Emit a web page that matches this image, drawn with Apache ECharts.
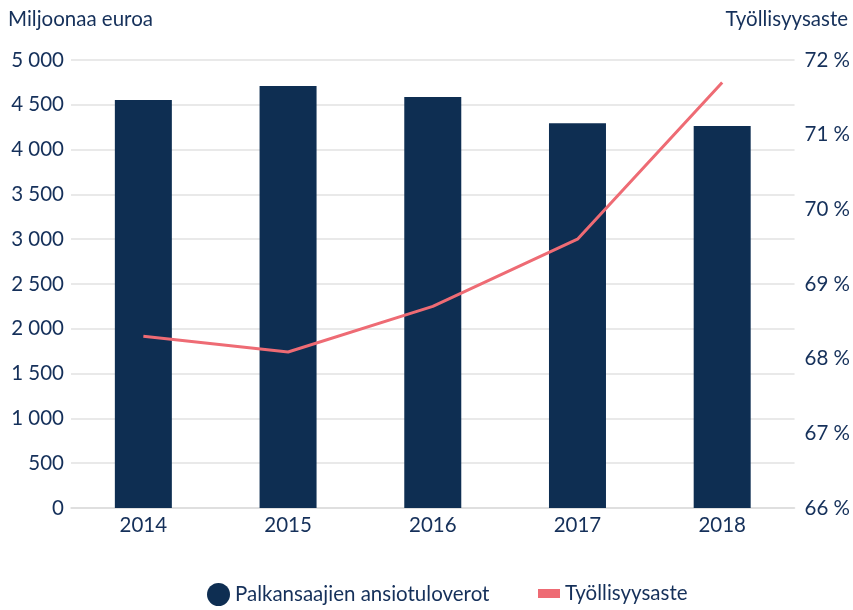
<!DOCTYPE html>
<html>
<head>
<meta charset="utf-8">
<script src="https://cdn.jsdelivr.net/npm/echarts@6/dist/echarts.min.js"></script>
<style>
  html, body { margin: 0; padding: 0; background: #fff; }
  #main { width: 853px; height: 610px; }
</style>
</head>
<body>
<div id="main"></div>
<script>
// vuodet
var years = ["2014", "2015", "2016", "2017", "2018"];
// palkansaajien ansiotuloverot, milj. euroa
var taxValues = [4554, 4710, 4587, 4293, 4263];
// työllisyysaste, %
var employmentRate = [68.3, 68.09, 68.7, 69.6, 71.7];

var textColor = "#15305a";
var font = "Lato";
var fs = 20.5;

function spaced(v) {
  return String(v).replace(/\B(?=(\d{3})+(?!\d))/g, " ");
}

var chart = echarts.init(document.getElementById("main"));
var option = {
  animation: false,
  textStyle: { fontFamily: font, color: textColor },
  title: [
    {
      text: "Miljoonaa euroa",
      left: 3,
      top: 4,
      textStyle: { fontFamily: font, fontSize: fs, fontWeight: "normal", color: textColor },
    },
    {
      text: "Työllisyysaste",
      right: 0,
      top: 4,
      textStyle: { fontFamily: font, fontSize: fs, fontWeight: "normal", color: textColor },
    },
  ],
  grid: { left: 71, right: 57, top: 60, bottom: 102 },
  legend: [
    {
      left: 207,
      top: 583,
      padding: 0,
      icon: "circle",
      itemWidth: 23,
      itemHeight: 23,
      textStyle: { fontFamily: font, fontSize: fs, color: textColor },
      data: ["Palkansaajien ansiotuloverot"],
    },
    {
      left: 538,
      top: 583,
      padding: 0,
      icon: "rect",
      itemWidth: 22,
      itemHeight: 9,
      textStyle: { fontFamily: font, fontSize: fs, color: textColor },
      data: ["Työllisyysaste"],
    },
  ],
  xAxis: {
    type: "category",
    data: years,
    axisLine: { lineStyle: { color: "#dcdcdc", width: 1.5 } },
    axisTick: { show: false },
    axisLabel: { fontFamily: font, fontSize: fs, color: textColor, margin: 7 },
  },
  yAxis: [
    {
      type: "value",
      min: 0,
      max: 5000,
      interval: 500,
      axisLine: { show: false },
      axisTick: { show: false },
      splitLine: { lineStyle: { color: "#e2e2e2", width: 1.5 } },
      axisLabel: {
        fontFamily: font,
        fontSize: fs,
        color: textColor,
        margin: 7,
        formatter: spaced,
      },
    },
    {
      type: "value",
      min: 66,
      max: 72,
      interval: 1,
      axisLine: { show: false },
      axisTick: { show: false },
      splitLine: { show: false },
      axisLabel: {
        fontFamily: font,
        fontSize: fs,
        color: textColor,
        margin: 10,
        formatter: function (v) { return v + " %"; },
      },
    },
  ],
  series: [
    {
      name: "Palkansaajien ansiotuloverot",
      type: "bar",
      data: taxValues,
      barWidth: 57,
      itemStyle: { color: "#0e2e52" },
    },
    {
      name: "Työllisyysaste",
      type: "line",
      yAxisIndex: 1,
      data: employmentRate,
      symbol: "none",
      lineStyle: { color: "#ee6b74", width: 3 },
      itemStyle: { color: "#ee6b74" },
    },
  ],
};
chart.setOption(option);
</script>
</body>
</html>
